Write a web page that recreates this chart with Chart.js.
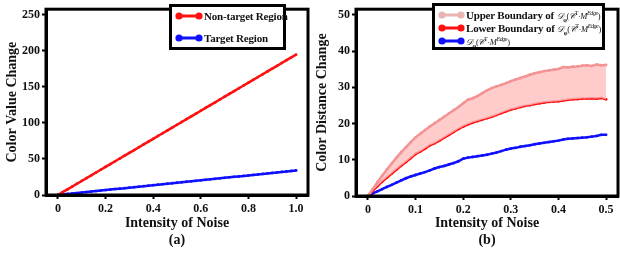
<!DOCTYPE html>
<html>
<head>
<meta charset="utf-8">
<script src="https://cdn.jsdelivr.net/npm/chart.js@4"></script>
<style>
  html, body { margin: 0; padding: 0; background: #fff; overflow: hidden; }
  body { width: 620px; height: 256px; position: relative; font-family: 'Liberation Serif', serif; font-weight: bold; }
  .wrap { position: absolute; top: 0; width: 312px; height: 256px; }
  .legend { position: absolute; border: 3px solid #000; background: #fff; box-sizing: border-box; font-size: 11px; color: #111; letter-spacing: -0.2px; }
  .item { position: absolute; left: 3px; height: 14px; line-height: 14px; white-space: nowrap; }
  .item svg { vertical-align: middle; margin-right: 1px; }
  .item span { vertical-align: middle; }
  .m { font-size: 8.5px; font-weight: normal; letter-spacing: -0.4px; }
  .m i { font-style: italic; }
  sub, sup { font-size: 6px; line-height: 0; }
</style>
</head>
<body>
<div class="wrap" style="left:0"><canvas id="chartA" width="312" height="256"></canvas></div>
<div class="wrap" style="left:310px"><canvas id="chartB" width="312" height="256"></canvas></div>
<div class="legend" id="legA" style="left:169px;top:4px;width:117px;height:46px"></div>
<div class="legend" id="legB" style="left:432px;top:3px;width:173px;height:47px"></div>
<script>
// ---- chart (a) data ----
var noiseA = [0,0.02,0.04,0.06,0.08,0.1,0.12,0.14,0.16,0.18,0.2,0.22,0.24,0.26,0.28,0.3,0.32,0.34,0.36,0.38,0.4,
  0.42,0.44,0.46,0.48,0.5,0.52,0.54,0.56,0.58,0.6,0.62,0.64,0.66,0.68,0.7,0.72,0.74,0.76,0.78,0.8,
  0.82,0.84,0.86,0.88,0.9,0.92,0.94,0.96,0.98,1.0];
var nonTarget = [0,3.9,7.8,11.7,15.6,19.5,23.4,27.3,31.2,35.1,39,42.9,46.8,50.7,54.6,58.5,62.4,66.3,70.2,74.1,78,
  81.9,85.8,89.7,93.6,97.5,101.4,105.3,109.2,113.1,117,120.9,124.8,128.7,132.6,136.5,140.4,144.3,148.2,152.1,156,
  159.9,163.8,167.7,171.6,175.5,179.4,183.3,187.2,191.1,195];
var target = [0,0.7,1.4,2.0,2.7,3.4,4.1,4.8,5.4,6.1,6.8,7.5,8.2,8.8,9.5,10.2,10.9,11.6,12.2,12.9,13.6,
  14.3,15.0,15.6,16.3,17.0,17.7,18.4,19.0,19.7,20.4,21.1,21.8,22.4,23.1,23.8,24.5,25.2,25.8,26.5,27.2,
  27.9,28.6,29.2,29.9,30.6,31.3,32.0,32.6,33.3,34.0];
var ticksAx = [0, 0.2, 0.4, 0.6, 0.8, 1.0];
var ticksAxLabels = ['0', '0.2', '0.4', '0.6', '0.8', '1.0'];
var ticksAy = [0, 50, 100, 150, 200, 250];

// ---- chart (b) data ----
var noiseB = [0,0.01,0.02,0.03,0.04,0.05,0.06,0.07,0.08,0.09,0.1,0.11,0.12,0.13,0.14,0.15,0.16,0.17,0.18,0.19,0.2,
  0.21,0.22,0.23,0.24,0.25,0.26,0.27,0.28,0.29,0.3,0.31,0.32,0.33,0.34,0.35,0.36,0.37,0.38,0.39,0.4,
  0.41,0.42,0.43,0.44,0.45,0.46,0.47,0.48,0.49,0.5];
var upperBound = [0,1.9,3.8,5.6,7.3,9.0,10.6,12.1,13.5,14.9,16.2,17.2,18.2,19.2,20.1,21.0,21.9,22.8,23.7,24.6,25.6,
  26.6,27.0,27.6,28.4,29.2,29.8,30.3,30.7,31.2,31.7,32.2,32.6,33.0,33.5,33.9,34.2,34.5,34.7,34.9,35.1,
  35.6,35.5,35.7,35.8,36.0,36.1,35.9,36.3,36.1,36.2];
var lowerBound = [0,1.4,2.7,4.0,5.1,6.2,7.3,8.4,9.4,10.5,11.6,12.3,13.1,14.0,14.6,15.3,16.1,16.9,17.7,18.5,19.2,
  19.8,20.3,20.7,21.1,21.5,21.9,22.4,22.9,23.4,23.9,24.2,24.6,24.9,25.1,25.4,25.6,25.8,26.0,26.1,26.2,
  26.4,26.6,26.7,26.8,26.9,26.9,27.0,26.9,27.1,26.7];
var distance = [0,0.7,1.3,1.9,2.5,3.1,3.7,4.3,4.9,5.4,5.8,6.2,6.6,7.1,7.6,8.0,8.3,8.7,9.1,9.6,10.3,
  10.6,10.8,11.0,11.2,11.4,11.7,12.0,12.4,12.8,13.1,13.3,13.6,13.8,14.0,14.3,14.5,14.7,14.9,15.1,15.3,
  15.6,15.8,15.9,16.0,16.1,16.2,16.4,16.6,16.9,16.9];
var ticksBx = [0, 0.1, 0.2, 0.3, 0.4, 0.5];
var ticksBy = [0, 10, 20, 30, 40, 50];

var mathD = '<span class="m"><i>𝒟</i><sub><b>φ</b></sub>(<i>𝒞</i><sup>T</sup>·<i>M</i><sup><i>Edge</i></sup>)</span>';
var legendA = [
  { label: 'Non-target Region', color: '#ff1010' },
  { label: 'Target Region', color: '#1010ff' }
];
var legendB = [
  { label: 'Upper Boundary of ' + mathD, color: '#e8b4b4' },
  { label: 'Lower Boundary of ' + mathD, color: '#ff1010' },
  { label: mathD, color: '#1010ff' }
];

var font = 'Liberation Serif';

function pts(xs, ys) {
  return xs.map(function (x, i) { return { x: x, y: ys[i] }; });
}

var frame = {
  id: 'frame',
  afterDatasetsDraw: function (chart) {
    var a = chart.chartArea, c = chart.ctx;
    c.save();
    c.strokeStyle = '#000';
    c.lineWidth = 3;
    c.strokeRect(a.left, a.top, a.right - a.left, a.bottom - a.top);
    c.restore();
  }
};

function makeOptions(o) {
  return {
    responsive: false,
    animation: false,
    layout: { padding: { top: 0, right: 1, left: 0, bottom: 0 } },
    plugins: { legend: { display: false }, tooltip: { enabled: false } },
    elements: { point: { radius: 1.4, borderWidth: 0 }, line: { borderWidth: 2.5, tension: 0 } },
    scales: {
      x: {
        type: 'linear', min: o.xmin, max: o.xmax,
        afterBuildTicks: function (s) { s.ticks = o.xticks.map(function (v) { return { value: v }; }); },
        afterFit: function (s) { s.height = o.xh; },
        ticks: {
          color: '#111', padding: 3, maxRotation: 0,
          font: { family: font, weight: 'bold', size: 12 },
          callback: function (v) { return o.xlabels[o.xticks.indexOf(v)]; }
        },
        grid: { drawOnChartArea: false, drawTicks: true, tickLength: 4, tickWidth: 2, tickColor: '#000' },
        border: { display: true, width: 3, color: '#000' },
        title: { display: true, text: ['Intensity of Noise', o.tag], color: '#111',
          font: { family: font, weight: 'bold', size: 14, lineHeight: 1.2 }, padding: { top: 0, bottom: 7 } }
      },
      y: {
        min: o.ymin, max: o.ymax,
        afterBuildTicks: function (s) { s.ticks = o.yticks.map(function (v) { return { value: v }; }); },
        afterFit: function (s) { s.width = o.yw; },
        ticks: { color: '#111', padding: 2, font: { family: font, weight: 'bold', size: 12 } },
        grid: { drawOnChartArea: false, drawTicks: true, tickLength: 4, tickWidth: 2, tickColor: '#000' },
        border: { display: true, width: 3, color: '#000' },
        title: { display: true, text: o.ytitle, color: '#111',
          font: { family: font, weight: 'bold', size: 14, lineHeight: 1.2 }, padding: { top: 4, bottom: 0 } }
      }
    }
  };
}

new Chart(document.getElementById('chartA'), {
  type: 'line',
  data: {
    datasets: [
      { label: legendA[0].label, data: pts(noiseA, nonTarget), borderColor: '#ff1010', backgroundColor: '#ff1010', fill: false },
      { label: legendA[1].label, data: pts(noiseA, target), borderColor: '#1010ff', backgroundColor: '#1010ff', fill: false }
    ]
  },
  options: makeOptions({ xmin: -0.05, xmax: 1.05, ymin: 0, ymax: 258, xticks: ticksAx, xlabels: ticksAxLabels,
    yticks: ticksAy, xh: 61, yw: 46, tag: '(a)', ytitle: 'Color Value Change' }),
  plugins: [frame]
});

new Chart(document.getElementById('chartB'), {
  type: 'line',
  data: {
    datasets: [
      { label: 'Upper', data: pts(noiseB, upperBound), borderColor: '#f29494', backgroundColor: 'rgba(255,190,190,0.8)',
        pointBackgroundColor: '#f29494', fill: '+1' },
      { label: 'Lower', data: pts(noiseB, lowerBound), borderColor: '#ff1010', backgroundColor: '#ff1010', fill: false },
      { label: 'Distance', data: pts(noiseB, distance), borderColor: '#1010ff', backgroundColor: '#1010ff', fill: false }
    ]
  },
  options: makeOptions({ xmin: -0.025, xmax: 0.525, ymin: 0, ymax: 51.6, xticks: ticksBx,
    xlabels: ticksBx.map(String), yticks: ticksBy, xh: 60, yw: 46, tag: '(b)', ytitle: 'Color Distance Change' }),
  plugins: [frame]
});

function buildLegend(el, items, tops, lineW) {
  items.forEach(function (it, i) {
    var d = document.createElement('div');
    d.className = 'item';
    d.style.top = tops[i] + 'px';
    d.innerHTML = '<svg width="' + lineW + '" height="10"><line x1="4" y1="5" x2="' + (lineW - 4) +
      '" y2="5" stroke="' + it.color + '" stroke-width="3"/><circle cx="4" cy="5" r="3.6" fill="' + it.color +
      '"/><circle cx="' + (lineW - 4) + '" cy="5" r="3.6" fill="' + it.color + '"/></svg><span>' + it.label + '</span>';
    el.appendChild(d);
  });
}
buildLegend(document.getElementById('legA'), legendA, [1, 23], 28);
buildLegend(document.getElementById('legB'), legendB, [1, 14, 27], 27);
</script>
</body>
</html>
